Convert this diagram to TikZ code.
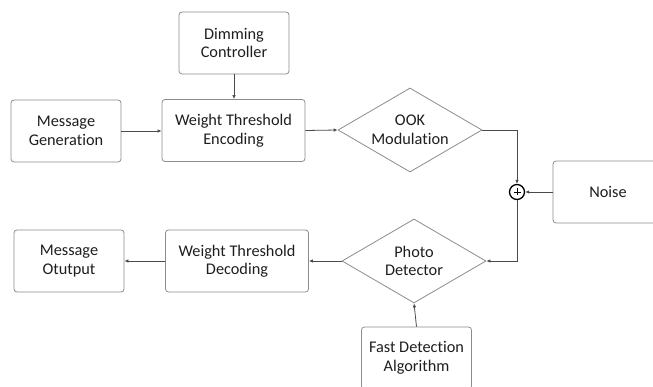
\documentclass[tikz,border=0pt]{standalone}
\usepackage{fontspec}
\setmainfont[Ligatures=NoCommon]{Carlito}
\usetikzlibrary{shapes.geometric,arrows.meta,calc}

\definecolor{boxline}{HTML}{8C8C8C}
\definecolor{wire}{HTML}{4A4A4A}
\definecolor{txt}{HTML}{1E1E1E}

\tikzset{
  block/.style={draw=boxline, line width=0.8pt, rounded corners=3pt,
    minimum width=110pt, minimum height=62pt, align=center, inner sep=2pt,
    text=txt, font=\fontsize{16.3}{18.5}\selectfont},
  wideblock/.style={block, minimum width=143pt},
  decision/.style={diamond, draw=boxline, line width=0.8pt, aspect=1.71,
    minimum width=144pt, minimum height=84pt, inner sep=0pt, align=center,
    text=txt, font=\fontsize{16.3}{18.5}\selectfont},
  adder/.style={circle, draw=black, line width=1.3pt, minimum size=15pt, inner sep=0pt},
  flow/.style={draw=wire, line width=0.8pt, -{Latex[length=4pt,width=3.5pt]}}
}

\begin{document}
\begin{tikzpicture}[x=1pt,y=-1pt]
  \useasboundingbox (0,0) rectangle (653,387);
  \clip (0,0) rectangle (653,387);

  % transmitter chain
  \node[block]     (dim)  at (234,43)    {Dimming\\Controller};
  \node[block]     (gen)  at (66,131)    {Message\\Generation};
  \node[wideblock] (enc)  at (233.5,130.5) {Weight Threshold\\Encoding};
  \node[decision]  (ook)  at (410,130)   {OOK\\Modulation};

  % channel: summing junction with the noise source
  \node[adder]     (sum)  at (517,192)   {};
  \draw[line width=0.8pt] ($(sum.center)+(-3.5,0)$) -- ($(sum.center)+(3.5,0)$)
                          ($(sum.center)+(0,-3.5)$) -- ($(sum.center)+(0,3.5)$);
  \node[block]     (noise) at (608,192)  {Noise};

  % receiver chain
  \node[decision]  (pd)   at (414,261)   {Photo\\Detector};
  \node[wideblock] (dec)  at (237,261)   {Weight Threshold\\Decoding};
  \node[block]     (out)  at (69,261)    {Message\\Otutput};
  \node[block]     (fda)  at (416.5,358) {Fast Detection\\Algorithm};

  % connections
  \draw[flow] (dim.south) -- (dim.south |- enc.north);
  \draw[flow] (gen.east) -- (gen.east -| enc.west);
  \draw[flow] (enc.east) -- (ook.west);
  \draw[flow] (ook.east) -| (sum.north);
  \draw[flow] (noise.west) -- (sum.east);
  \draw[flow] (sum.south) |- (pd.east);
  \draw[flow] (pd.west) -- (pd.west -| dec.east);
  \draw[flow] (dec.west) -- (dec.west -| out.east);
  \draw[flow] (fda.north) -- (pd.south);
\end{tikzpicture}
\end{document}
